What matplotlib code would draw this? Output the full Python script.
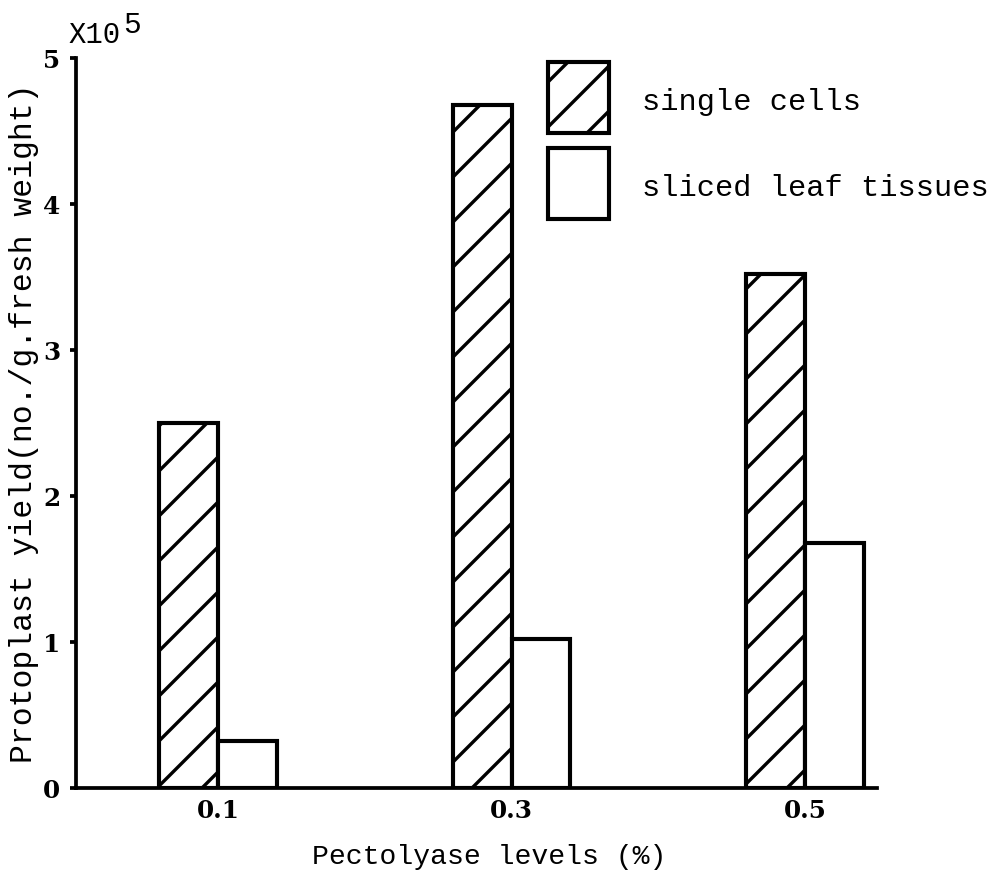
import matplotlib
matplotlib.use("Agg")
import matplotlib.pyplot as plt
from matplotlib.patches import Patch, Rectangle
from matplotlib.legend_handler import HandlerPatch
import numpy as np

# ---- data ----
levels = ["0.1", "0.3", "0.5"]
single_cells = [2.50, 4.68, 3.52]
sliced_leaf = [0.32, 1.02, 1.68]
series_names = ["single cells", "sliced leaf tissues"]
y_ticks = [0, 1, 2, 3, 4, 5]

DPI = 270
W, H = 995, 874
plt.rcParams['hatch.linewidth'] = 0.9
fig = plt.figure(figsize=(W / DPI, H / DPI), dpi=DPI)
fig.patch.set_facecolor("white")

left, right, bottom, top = 76, 877, 788, 58
ax = fig.add_axes([left / W, 1 - bottom / H, (right - left) / W, (bottom - top) / H])

mono = "Liberation Mono"
serif_bold = dict(family="DejaVu Serif", weight="bold", size=6.6)

x = np.arange(len(levels))
bw = 0.2
ax.bar(x - bw / 2, single_cells, width=bw, facecolor="white", edgecolor="black",
       linewidth=1.1, hatch="//", zorder=3)
ax.bar(x + bw / 2, sliced_leaf, width=bw, facecolor="white", edgecolor="black",
       linewidth=1.1, zorder=3)

ax.set_xlim(-0.484, 2.245)
ax.set_ylim(0, 5)

for s in ["top", "right"]:
    ax.spines[s].set_visible(False)
for s in ["left", "bottom"]:
    ax.spines[s].set_linewidth(1.0)

ax.set_xticks(x)
ax.set_xticklabels(levels, fontdict=serif_bold)
ax.set_yticks(y_ticks)
ax.set_yticklabels([str(t) for t in y_ticks], fontdict=serif_bold)
ax.tick_params(axis="x", length=0, pad=3.0)
ax.tick_params(axis="y", length=1.6, width=1.0, direction="out", pad=2.6)

ax.set_xlabel("Pectolyase levels (%)", family=mono, size=7.5, labelpad=5.5)
ax.xaxis.label.set_x((489 - left) / (right - left))
ax.set_ylabel("Protoplast yield(no./g.fresh weight)", family=mono, size=8.4, labelpad=1)

# multiplier
fig.text(68 / W, 1 - 43 / H, "X10", family=mono, size=7.7, ha="left", va="baseline")
fig.text(123 / W, 1 - 33 / H, "5", family=mono, size=7.9, ha="left", va="baseline")

# legend
SHIFT_PX = -4
SHIFT_PT = SHIFT_PX * 72 / DPI


def shifted_rect(legend, orig_handle, xdescent, ydescent, width, height, fontsize):
    return Rectangle((-xdescent, -ydescent - SHIFT_PT), width, height)


fs_leg = 8.1
fs_px = fs_leg * DPI / 72
hh = 3.215
handles = [Patch(facecolor="white", edgecolor="black", hatch="//", linewidth=1.1),
           Patch(facecolor="white", edgecolor="black", linewidth=1.1)]
fig.legend(handles, series_names, loc="upper left",
           bbox_to_anchor=(548 / W, 1 - (62 - SHIFT_PX) / H), bbox_transform=fig.transFigure,
           frameon=False, borderpad=0, borderaxespad=0,
           handlelength=2.0, handleheight=hh, labelspacing=15 / fs_px,
           handletextpad=1.1, prop=dict(family=mono, size=fs_leg),
           handler_map={Patch: HandlerPatch(patch_func=shifted_rect)})

fig.savefig("out.png", dpi=DPI, facecolor="white")
